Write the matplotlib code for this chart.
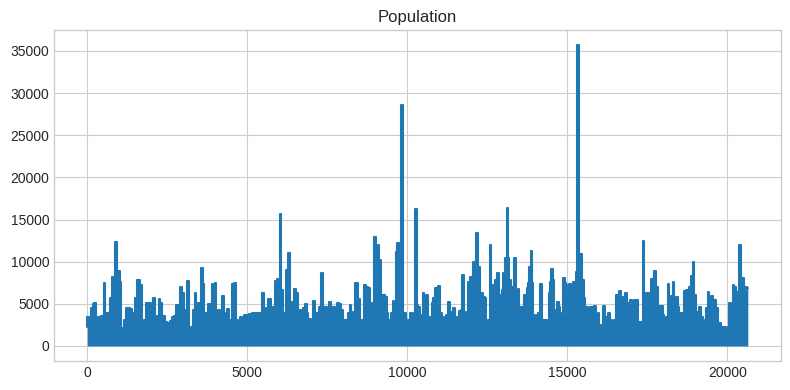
import matplotlib
matplotlib.use("Agg")
from matplotlib import pyplot as plt

# upper envelope of the population series (row index, population)
idx = [0, 10, 90, 140, 195, 245, 295, 400, 485, 535, 590, 660, 745, 820, 890, 940, 985, 1045,
       1090, 1180, 1235, 1305, 1360, 1420, 1470, 1525, 1610, 1670, 1735, 1805, 1890, 1960, 2015,
       2090, 2150, 2200, 2255, 2295, 2345, 2400, 2460, 2535, 2610, 2690, 2740, 2795, 2860, 2920,
       2985, 3045, 3090, 3150, 3210, 3292, 3334, 3386, 3438, 3501, 3574, 3636, 3688, 3751, 3803,
       3865, 3907, 3959, 4011, 4063, 4115, 4168, 4230, 4282, 4334, 4397, 4459, 4501, 4564, 4605,
       4668, 4730, 4793, 4876, 4928, 5001, 5085, 5189, 5262, 5345, 5418, 5491, 5543, 5606, 5689,
       5762, 5814, 5887, 5939, 6002, 6033, 6085, 6168, 6241, 6304, 6356, 6439, 6502, 6564, 6627,
       6647, 6699, 6772, 6824, 6876, 6939, 7022, 7085, 7137, 7210, 7272, 7335, 7376, 7460, 7522,
       7585, 7637, 7710, 7772, 7835, 7897, 7949, 8001, 8064, 8127, 8179, 8220, 8273, 8335, 8418,
       8481, 8564, 8627, 8679, 8731, 8794, 8856, 8939, 8992, 9044, 9096, 9158, 9210, 9262, 9325,
       9377, 9440, 9513, 9565, 9617, 9658, 9721, 9763, 9830, 9877, 9940, 10002, 10065, 10084,
       10147, 10209, 10272, 10313, 10365, 10417, 10470, 10501, 10553, 10605, 10636, 10678, 10730,
       10782, 10834, 10886, 10938, 11001, 11053, 11126, 11189, 11251, 11303, 11355, 11407, 11459,
       11522, 11584, 11647, 11699, 11741, 11793, 11855, 11918, 11980, 12032, 12074, 12126, 12189,
       12241, 12283, 12335, 12387, 12439, 12491, 12543, 12595, 12658, 12710, 12762, 12824, 12877,
       12918, 12970, 13033, 13075, 13127, 13158, 13210, 13262, 13314, 13366, 13418, 13471, 13523,
       13574, 13626, 13668, 13710, 13751, 13793, 13835, 13876, 13918, 13960, 14012, 14064, 14116,
       14178, 14231, 14283, 14335, 14387, 14439, 14481, 14522, 14564, 14606, 14647, 14699, 14752,
       14804, 14856, 14897, 14939, 14981, 15033, 15085, 15137, 15189, 15231, 15293, 15334, 15377,
       15429, 15481, 15533, 15575, 15627, 15679, 15731, 15794, 15856, 15919, 15971, 16023, 16085,
       16148, 16190, 16252, 16315, 16356, 16419, 16481, 16544, 16596, 16648, 16711, 16773, 16825,
       16877, 16940, 17002, 17065, 17116, 17168, 17220, 17272, 17324, 17376, 17428, 17480, 17532,
       17585, 17637, 17689, 17741, 17793, 17845, 17897, 17949, 18001, 18053, 18106, 18158, 18210,
       18262, 18314, 18366, 18418, 18470, 18522, 18574, 18627, 18679, 18731, 18783, 18835, 18887,
       18950, 18991, 19043, 19095, 19148, 19200, 19252, 19304, 19356, 19408, 19460, 19512, 19564,
       19616, 19669, 19721, 19773, 19825, 19877, 19929, 19981, 20033, 20085, 20137, 20190, 20242,
       20294, 20346, 20400, 20440, 20490, 20540, 20590, 20639]

population = [2290, 3475, 3475, 4460, 4980, 5050, 2700, 3400, 3550, 7500, 2690, 3870, 5650, 8200,
              12280, 8200, 8890, 7540, 2090, 3080, 4540, 4460, 4380, 3870, 3750, 5650, 7820, 7230,
              2690, 3080, 5050, 5050, 4660, 5650, 3480, 3550, 5570, 5060, 2290, 3600, 2890, 2690,
              3000, 3480, 3600, 4860, 2690, 7030, 6240, 3480, 4270, 7740, 2100, 2290, 4270, 6240,
              3870, 5050, 9200, 7350, 3870, 3950, 4940, 4940, 7350, 4460, 7500, 3870, 4270, 3480,
              5960, 3870, 3480, 4380, 3080, 2290, 7350, 7500, 3080, 2690, 3480, 3080, 3670, 3670,
              3750, 3870, 3870, 3950, 3870, 6320, 4270, 4540, 5570, 4460, 4660, 7700, 7900, 5690,
              15600, 6630, 3870, 9000, 11060, 5170, 4270, 6700, 6240, 3080, 4270, 2690, 4460, 4980,
              3870, 3160, 3080, 5330, 3870, 3950, 4660, 8610, 4660, 4580, 3480, 5250, 4660, 4660,
              4460, 5140, 4980, 4270, 3080, 3080, 3080, 3870, 4860, 4070, 3160, 7430, 5530, 2410,
              3080, 7230, 6950, 6830, 3080, 5050, 12880, 10190, 11970, 10190, 6040, 6040, 5850,
              3870, 3080, 3870, 5370, 4460, 11180, 12170, 7860, 28600, 3870, 3950, 2290, 3080, 3870,
              3950, 2410, 16200, 4860, 4660, 3080, 3670, 6240, 4660, 6040, 6040, 3480, 3280, 5050,
              5650, 6830, 5050, 7110, 3870, 3080, 3480, 3670, 5250, 3480, 4070, 4460, 3480, 3400,
              4190, 4270, 8410, 3870, 3990, 7620, 8220, 8220, 9910, 9590, 13350, 9400, 4270, 6240,
              5850, 5650, 1900, 3080, 11970, 7230, 4270, 7820, 8690, 6040, 6040, 6630, 8610, 10390,
              16310, 10390, 7820, 7030, 5050, 10390, 5850, 6700, 4660, 4660, 1900, 6040, 6040, 6830,
              7430, 9400, 11260, 7430, 3670, 3480, 3670, 3950, 7350, 3080, 2690, 3080, 2290, 6240,
              7620, 9090, 7820, 3870, 4270, 5250, 4660, 3670, 3870, 8020, 7430, 4460, 7230, 7350,
              5050, 7620, 6630, 8810, 35682, 9990, 10900, 7820, 5650, 4580, 4580, 2290, 4660, 4580,
              4740, 2890, 3870, 2490, 2290, 4740, 2090, 3480, 3870, 3080, 2090, 3080, 6040, 6040,
              6560, 5850, 3870, 6240, 2690, 5050, 5450, 4660, 5450, 5450, 2890, 2890, 2890, 12480,
              5850, 6240, 6240, 3080, 7900, 7820, 8890, 7030, 3870, 4740, 4740, 3670, 3080, 3480,
              7350, 2690, 5930, 7620, 4070, 5770, 4660, 3870, 3870, 3480, 6560, 6640, 3080, 7030,
              8330, 9990, 6040, 4070, 3550, 4660, 3480, 3080, 2890, 4460, 6440, 4860, 5930, 5450,
              5450, 4460, 2290, 2760, 2290, 2290, 2290, 2090, 2290, 5140, 4660, 7230, 6950, 6360,
              6240, 12000, 7800, 8070, 6600, 7000, 6900]

plt.style.use("seaborn-v0_8-whitegrid")
fig = plt.figure(figsize=(7.9, 3.9), dpi=100)
ax = fig.add_subplot(1, 1, 1)
fig.subplots_adjust(left=0.0687, right=0.9884, top=0.9226, bottom=0.0744)

ax.fill_between(idx, 0, population, step="mid", color="#1f77b4", linewidth=0)
ax.plot(idx, population, drawstyle="steps-mid", color="#1f77b4", linewidth=1.5)
ax.set_title("Population")
ax.set_xticks([0, 5000, 10000, 15000, 20000])
ax.set_yticks(range(0, 35001, 5000))

fig.savefig("out.png", dpi=100)
